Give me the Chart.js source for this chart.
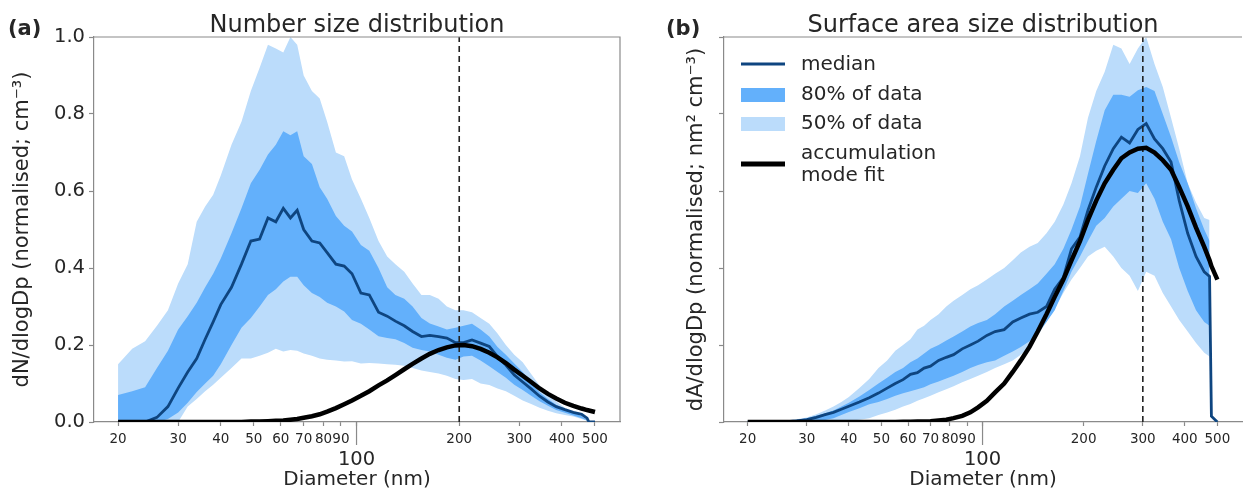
<!DOCTYPE html>
<html>
<head>
<meta charset="utf-8">
<script src="https://cdn.jsdelivr.net/npm/chart.js@4.4.1/dist/chart.umd.min.js"></script>
<style>
  html, body { margin: 0; padding: 0; background: #fff; }
  #wrap { position: relative; width: 1243px; height: 495px; overflow: hidden; }
  .panel { position: absolute; top: 0; height: 495px; }
  #panelA { left: 0; width: 640px; }
  #panelB { left: 640px; width: 603px; }
</style>
</head>
<body>
<div id="wrap">
  <div class="panel" id="panelA"><canvas id="numChart" width="640" height="495"></canvas></div>
  <div class="panel" id="panelB"><canvas id="areaChart" width="603" height="495"></canvas></div>
</div>
<script>
// diameters (nm) shared by both panels
const diameters = [20, 22, 24, 26, 28, 30, 32, 34, 36, 38,
  40, 43, 46, 49, 52, 55, 58, 61, 64, 67,
  70, 74, 78, 82, 87, 92, 97, 103, 109, 116,
  123, 130, 138, 146, 155, 164, 174, 184, 195, 206,
  218, 231, 245, 259, 274, 290, 307, 325, 344, 364,
  385, 408, 432, 457, 474, 480, 500];

// (a) number size distribution
const numBand50High = [0.15, 0.19, 0.21, 0.25, 0.29, 0.36, 0.41, 0.52, 0.56, 0.59,
  0.64, 0.72, 0.78, 0.86, 0.92, 0.98, 0.97, 0.96, 1.0, 0.98,
  0.90, 0.86, 0.84, 0.78, 0.70, 0.69, 0.63, 0.58, 0.53, 0.47,
  0.43, 0.41, 0.39, 0.36, 0.33, 0.33, 0.32, 0.30, 0.29, 0.29,
  0.285, 0.27, 0.255, 0.23, 0.20, 0.175, 0.155, 0.125, 0.095, 0.07,
  0.053, 0.037, 0.025, 0.016, 0.005, 0.002, null];
const numBand80High = [0.07, 0.08, 0.09, 0.14, 0.185, 0.24, 0.275, 0.31, 0.35, 0.385,
  0.425, 0.49, 0.555, 0.62, 0.655, 0.695, 0.72, 0.755, 0.745, 0.755,
  0.69, 0.67, 0.61, 0.58, 0.535, 0.51, 0.495, 0.46, 0.445, 0.40,
  0.35, 0.33, 0.32, 0.30, 0.27, 0.256, 0.248, 0.24, 0.245, 0.25,
  0.255, 0.24, 0.222, 0.195, 0.175, 0.152, 0.13, 0.10, 0.077, 0.06,
  0.045, 0.034, 0.024, 0.015, 0.005, 0.002, null];
const numMedian = [0, 0, 0, 0.012, 0.04, 0.088, 0.13, 0.165, 0.215, 0.26,
  0.305, 0.35, 0.41, 0.47, 0.475, 0.53, 0.52, 0.555, 0.53, 0.55,
  0.50, 0.47, 0.465, 0.44, 0.41, 0.405, 0.385, 0.335, 0.33, 0.285,
  0.275, 0.262, 0.25, 0.235, 0.222, 0.225, 0.222, 0.218, 0.206, 0.206,
  0.213, 0.205, 0.196, 0.17, 0.148, 0.122, 0.104, 0.086, 0.067, 0.052,
  0.04, 0.032, 0.025, 0.02, 0.01, 0, 0];
const numBand80Low = [0, 0, 0, 0, 0.008, 0.025, 0.05, 0.078, 0.10, 0.12,
  0.15, 0.20, 0.245, 0.27, 0.30, 0.33, 0.345, 0.365, 0.377, 0.377,
  0.355, 0.335, 0.325, 0.31, 0.30, 0.287, 0.265, 0.255, 0.24, 0.223,
  0.218, 0.215, 0.205, 0.193, 0.187, 0.183, 0.175, 0.167, 0.162, 0.17,
  0.172, 0.16, 0.145, 0.13, 0.115, 0.097, 0.083, 0.068, 0.054, 0.042,
  0.031, 0.024, 0.017, 0.01, 0.004, 0.002, null];
const numBand50Low = [0, 0, 0, 0, 0, 0, 0.04, 0.06, 0.08, 0.097,
  0.115, 0.14, 0.165, 0.165, 0.172, 0.18, 0.19, 0.183, 0.187, 0.185,
  0.178, 0.172, 0.165, 0.162, 0.16, 0.157, 0.158, 0.152, 0.153, 0.152,
  0.15, 0.149, 0.146, 0.14, 0.134, 0.13, 0.126, 0.12, 0.112, 0.109,
  0.112, 0.10, 0.096, 0.087, 0.08, 0.068, 0.056, 0.047, 0.037, 0.029,
  0.023, 0.018, 0.014, 0.008, 0.003, 0.001, null];
const numFit = [0, 0, 0, 0, 0, 0, 0, 0, 0, 0,
  0, 0, 0, 0.001, 0.001, 0.002, 0.003, 0.004, 0.006, 0.008,
  0.011, 0.015, 0.02, 0.027, 0.036, 0.046, 0.056, 0.068, 0.08, 0.095,
  0.108, 0.122, 0.137, 0.151, 0.165, 0.177, 0.187, 0.194, 0.199, 0.20,
  0.197, 0.19, 0.18, 0.168, 0.153, 0.136, 0.12, 0.104, 0.087, 0.073,
  0.061, 0.05, 0.042, 0.035, 0.031, 0.03, 0.026];
const numModeDiameter = 200;

// (b) surface area size distribution
const areaBand50High = [0, 0.001, 0.002, 0.004, 0.007, 0.012, 0.02, 0.03, 0.04, 0.052,
  0.065, 0.088, 0.112, 0.14, 0.16, 0.185, 0.20, 0.215, 0.24, 0.25,
  0.265, 0.28, 0.30, 0.315, 0.33, 0.345, 0.355, 0.37, 0.385, 0.40,
  0.42, 0.44, 0.455, 0.465, 0.49, 0.52, 0.565, 0.62, 0.69, 0.79,
  0.86, 0.91, 0.98, 0.97, 0.93, 0.97, 1.0, 0.93, 0.87, 0.79,
  0.71, 0.62, 0.57, 0.53, 0.525, null, null];
const areaBand80High = [0, 0, 0.001, 0.003, 0.006, 0.01, 0.016, 0.023, 0.03, 0.04,
  0.05, 0.066, 0.083, 0.10, 0.115, 0.13, 0.14, 0.155, 0.165, 0.178,
  0.19, 0.20, 0.212, 0.222, 0.235, 0.248, 0.257, 0.265, 0.28, 0.30,
  0.315, 0.33, 0.345, 0.36, 0.385, 0.41, 0.45, 0.50, 0.56, 0.645,
  0.73, 0.81, 0.85, 0.85, 0.845, 0.862, 0.87, 0.86, 0.80, 0.74,
  0.675, 0.62, 0.555, 0.50, 0.47, null, null];
const areaMedian = [0, 0, 0.001, 0.001, 0.003, 0.006, 0.012, 0.019, 0.025, 0.033,
  0.041, 0.052, 0.063, 0.075, 0.088, 0.10, 0.11, 0.124, 0.128, 0.14,
  0.145, 0.16, 0.168, 0.175, 0.19, 0.20, 0.21, 0.225, 0.235, 0.24,
  0.26, 0.27, 0.28, 0.285, 0.30, 0.345, 0.375, 0.45, 0.48, 0.55,
  0.61, 0.665, 0.71, 0.74, 0.725, 0.76, 0.775, 0.735, 0.71, 0.675,
  0.575, 0.49, 0.43, 0.39, 0.378, 0.015, 0];
const areaBand80Low = [0, 0, 0, 0, 0, 0, 0.002, 0.005, 0.01, 0.018,
  0.026, 0.036, 0.046, 0.052, 0.06, 0.068, 0.075, 0.08, 0.085, 0.09,
  0.098, 0.105, 0.113, 0.12, 0.13, 0.14, 0.148, 0.155, 0.16, 0.172,
  0.183, 0.195, 0.21, 0.23, 0.26, 0.29, 0.34, 0.39, 0.43, 0.47,
  0.51, 0.53, 0.56, 0.58, 0.60, 0.595, 0.62, 0.58, 0.52, 0.475,
  0.40, 0.34, 0.29, 0.26, 0.25, null, null];
const areaBand50Low = [0, 0, 0, 0, 0, 0, 0, 0, 0, 0,
  0.003, 0.006, 0.01, 0.018, 0.025, 0.032, 0.04, 0.047, 0.055, 0.062,
  0.068, 0.077, 0.085, 0.093, 0.103, 0.112, 0.12, 0.13, 0.14, 0.15,
  0.16, 0.175, 0.195, 0.225, 0.26, 0.295, 0.335, 0.37, 0.40, 0.43,
  0.445, 0.455, 0.43, 0.40, 0.38, 0.34, 0.39, 0.38, 0.335, 0.30,
  0.265, 0.235, 0.205, 0.18, 0.17, null, null];
const areaFit = [0, 0, 0, 0, 0, 0, 0, 0, 0, 0,
  0, 0, 0, 0, 0, 0, 0.0005, 0.0007, 0.001, 0.0015,
  0.002, 0.004, 0.006, 0.01, 0.016, 0.025, 0.038, 0.055, 0.077, 0.10,
  0.13, 0.16, 0.195, 0.235, 0.28, 0.325, 0.37, 0.42, 0.47, 0.525,
  0.575, 0.62, 0.655, 0.685, 0.70, 0.71, 0.712, 0.70, 0.68, 0.655,
  0.61, 0.56, 0.505, 0.455, 0.42, 0.405, 0.37];
const areaModeDiameter = 300;

// axis ticks
const xTicks = [20, 30, 40, 50, 60, 70, 80, 90, 100, 200, 300, 400, 500];
const yTicks = [0, 0.2, 0.4, 0.6, 0.8, 1.0];
const xRange = [17, 592];

const legendLabels = ['median', '80% of data', '50% of data', ['accumulation', 'mode fit']];

// colours
const band50Color = '#bbdcfb';
const band80Color = '#63b0fb';
const medianColor = '#0e4580';
const spineColor = '#8a8a8a';
const textColor = '#262626';
const fontFamily = '"DejaVu Sans", sans-serif';

Chart.defaults.font.family = fontFamily;
Chart.defaults.color = textColor;

function toPoints(values) {
  return diameters.map((d, i) => ({ x: d, y: values[i] }));
}

function drawLegend(ctx, x0) {
  ctx.lineCap = 'butt';
  ctx.strokeStyle = medianColor;
  ctx.lineWidth = 3;
  ctx.beginPath(); ctx.moveTo(x0, 64); ctx.lineTo(x0 + 44, 64); ctx.stroke();
  ctx.fillStyle = band80Color;
  ctx.fillRect(x0, 88, 44, 14);
  ctx.fillStyle = band50Color;
  ctx.fillRect(x0, 117, 44, 14);
  ctx.strokeStyle = '#000';
  ctx.lineWidth = 5;
  ctx.beginPath(); ctx.moveTo(x0, 164); ctx.lineTo(x0 + 44, 164); ctx.stroke();

  ctx.fillStyle = textColor;
  ctx.font = '20px ' + fontFamily;
  ctx.textAlign = 'left';
  ctx.textBaseline = 'middle';
  const tx = x0 + 60;
  ctx.fillText(legendLabels[0], tx, 65);
  ctx.fillText(legendLabels[1], tx, 95);
  ctx.fillText(legendLabels[2], tx, 124);
  ctx.fillText(legendLabels[3][0], tx, 154);
  ctx.fillText(legendLabels[3][1], tx, 176);
}

// titles, panel letters, top/right frame, long tick at 100, legend
const decorPlugin = {
  id: 'decor',
  afterDraw(chart, args, o) {
    const { ctx, chartArea: a, scales } = chart;
    ctx.save();
    ctx.strokeStyle = spineColor;
    ctx.lineWidth = 1.2;
    ctx.beginPath();
    ctx.moveTo(a.left, a.top);
    ctx.lineTo(a.right, a.top);
    if (o.rightSpine) ctx.lineTo(a.right, a.bottom);
    ctx.stroke();

    const x100 = scales.x.getPixelForValue(100);
    ctx.beginPath();
    ctx.moveTo(x100, a.bottom);
    ctx.lineTo(x100, a.bottom + 23);
    ctx.stroke();

    ctx.fillStyle = textColor;
    ctx.textBaseline = 'alphabetic';
    ctx.textAlign = 'center';
    ctx.font = '24px ' + fontFamily;
    ctx.fillText(o.title, (a.left + a.right) / 2, 32);
    ctx.textAlign = 'left';
    ctx.font = 'bold 21px ' + fontFamily;
    ctx.fillText(o.tag, o.tagX, 35);

    if (o.legendX) drawLegend(ctx, o.legendX);
    ctx.restore();
  }
};

function makeChart(canvasId, p) {
  const ctx = document.getElementById(canvasId).getContext('2d');
  return new Chart(ctx, {
    type: 'line',
    data: {
      datasets: [
        { label: 'accumulation mode fit', data: toPoints(p.fit), borderColor: '#000', borderWidth: 4.5, fill: false },
        { label: 'mode', data: [{ x: p.mode, y: 0 }, { x: p.mode, y: 1 }], borderColor: '#222', borderWidth: 1.6, borderDash: [6, 4], fill: false },
        { label: 'median', data: toPoints(p.median), borderColor: medianColor, borderWidth: 2.8, fill: false },
        { label: '80% of data', data: toPoints(p.band80High), borderWidth: 0, borderColor: band80Color, backgroundColor: band80Color, fill: '+1' },
        { label: '80% low', data: toPoints(p.band80Low), borderWidth: 0, borderColor: band80Color, fill: false },
        { label: '50% of data', data: toPoints(p.band50High), borderWidth: 0, borderColor: band50Color, backgroundColor: band50Color, fill: '+1' },
        { label: '50% low', data: toPoints(p.band50Low), borderWidth: 0, borderColor: band50Color, fill: false }
      ]
    },
    options: {
      responsive: false,
      animation: false,
      events: [],
      elements: { point: { radius: 0 }, line: { tension: 0 } },
      layout: { padding: { left: 0, right: p.padRight, top: 37, bottom: 0 } },
      scales: {
        x: {
          type: 'logarithmic',
          min: xRange[0],
          max: xRange[1],
          afterBuildTicks: (scale) => { scale.ticks = xTicks.map(v => ({ value: v, major: v === 100 })); },
          afterFit: (scale) => { scale.height = 73; },
          border: { color: spineColor, width: 1.2 },
          grid: { drawOnChartArea: false, tickLength: 4, tickColor: spineColor, tickWidth: 1.2 },
          ticks: {
            autoSkip: false,
            maxRotation: 0,
            padding: 5,
            color: textColor,
            callback: (v) => (v === 100 ? ['', '100'] : String(v)),
            font: (c) => (c.tick && c.tick.value === 100
              ? { family: fontFamily, size: 19.5, lineHeight: 1 }
              : { family: fontFamily, size: 13.5, lineHeight: 1.2 })
          },
          title: { display: true, text: 'Diameter (nm)', color: textColor, font: { size: 20 }, padding: { top: 0, bottom: 3 } }
        },
        y: {
          min: 0,
          max: 1,
          afterBuildTicks: (scale) => { scale.ticks = yTicks.map(v => ({ value: v })); },
          afterFit: (scale) => { scale.width = p.yWidth; },
          border: { color: spineColor, width: 1.2 },
          grid: { drawOnChartArea: false, tickLength: 5, tickColor: spineColor, tickWidth: 1.2 },
          ticks: {
            display: p.yLabels,
            padding: 4,
            color: textColor,
            font: { size: 19.5 },
            callback: (v) => Number(v).toFixed(1)
          },
          title: { display: true, text: p.yTitle, color: textColor, font: { size: 21 }, padding: { top: p.yTitlePad, bottom: 0 } }
        }
      },
      plugins: {
        legend: { display: false },
        tooltip: { enabled: false },
        decor: { title: p.title, tag: p.tag, tagX: p.tagX, rightSpine: p.rightSpine, legendX: p.legendX }
      }
    },
    plugins: [decorPlugin]
  });
}

makeChart('numChart', {
  fit: numFit, mode: numModeDiameter, median: numMedian,
  band80High: numBand80High, band80Low: numBand80Low,
  band50High: numBand50High, band50Low: numBand50Low,
  title: 'Number size distribution', tag: '(a)', tagX: 8,
  yTitle: 'dN/dlogDp (normalised; cm\u207B\u00B3)', yLabels: true,
  yWidth: 94, yTitlePad: 10, padRight: 20, rightSpine: true, legendX: 0
});

makeChart('areaChart', {
  fit: areaFit, mode: areaModeDiameter, median: areaMedian,
  band80High: areaBand80High, band80Low: areaBand80Low,
  band50High: areaBand50High, band50Low: areaBand50Low,
  title: 'Surface area size distribution', tag: '(b)', tagX: 26,
  yTitle: 'dA/dlogDp (normalised; nm\u00B2 cm\u207B\u00B3)', yLabels: false,
  yWidth: 84, yTitlePad: 44, padRight: 1, rightSpine: false, legendX: 101
});
</script>
</body>
</html>
